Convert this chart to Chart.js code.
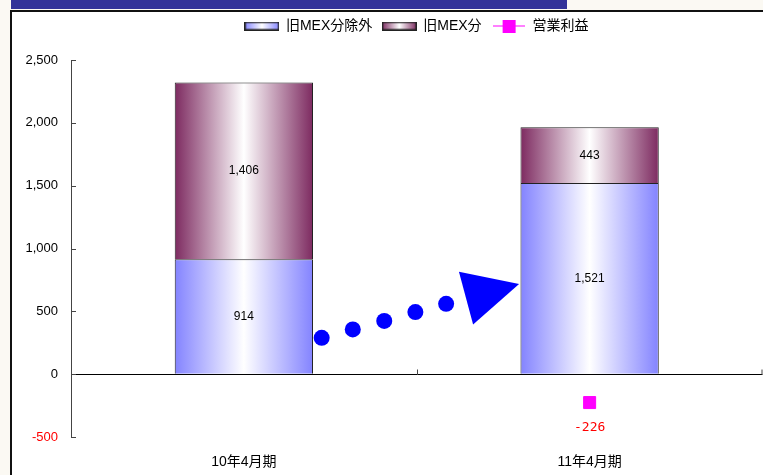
<!DOCTYPE html>
<html>
<head>
<meta charset="utf-8">
<script src="https://cdn.jsdelivr.net/npm/chart.js@4/dist/chart.umd.min.js"></script>
<style>
  html, body { margin: 0; padding: 0; }
  body { width: 763px; height: 475px; background: #fbf9f3; position: relative; overflow: hidden; }
  #banner { position: absolute; left: 11px; top: 0; width: 556px; height: 9px; background: #333399; }
  #panel { position: absolute; left: 10px; top: 10px; width: 763px; height: 465px; background: #fff;
           border-left: 2px solid #111; border-top: 2px solid #111; box-sizing: border-box; }
  #mychart { position: absolute; left: 0; top: 0; }
</style>
</head>
<body>
<div id="banner"></div>
<div id="panel"><canvas id="mychart" width="760" height="463"></canvas></div>
<script>
const categories = ["10年4月期", "11年4月期"];
const excludedValues = [914, 1521];   // 旧MEX分除外
const mexValues = [1406, 443];        // 旧MEX分
const profitValues = [null, -226];    // 営業利益
const yTicks = [-500, 0, 500, 1000, 1500, 2000, 2500];

const FONT = "'Liberation Sans', 'Noto Sans CJK JP', sans-serif";
const BLUE_EDGE = "#8383ff";
const MAROON_EDGE = "#7d2a60";

function formatNumber(value) {
  return value.toLocaleString("en-US");
}

// horizontal edge -> white -> edge shading across one bar
function barGradient(context, edgeColor) {
  let chart = context.chart;
  let xScale = chart.scales.x;
  if (!xScale || context.dataIndex === undefined) return edgeColor;
  let center = xScale.getPixelForValue(context.dataIndex);
  let step = xScale.getPixelForValue(1) - xScale.getPixelForValue(0);
  let half = step * 0.4 / 2;
  if (!isFinite(center) || !isFinite(half) || half <= 0) return edgeColor;
  let g = chart.ctx.createLinearGradient(center - half, 0, center + half, 0);
  g.addColorStop(0, edgeColor);
  g.addColorStop(0.5, "#ffffff");
  g.addColorStop(1, edgeColor);
  return g;
}

function legendSwatch(edgeColor) {
  let c = document.createElement("canvas");
  c.width = 35;
  c.height = 9;
  let ctx = c.getContext("2d");
  let g = ctx.createLinearGradient(0, 0, 35, 0);
  g.addColorStop(0, edgeColor);
  g.addColorStop(0.5, "#ffffff");
  g.addColorStop(1, edgeColor);
  ctx.fillStyle = g;
  ctx.fillRect(0, 0, 35, 9);
  ctx.strokeStyle = "#222";
  ctx.lineWidth = 1.5;
  ctx.strokeRect(0.75, 0.75, 33.5, 7.5);
  return c;
}

function legendLine() {
  let c = document.createElement("canvas");
  c.width = 32;
  c.height = 13;
  let ctx = c.getContext("2d");
  ctx.strokeStyle = "#ff00ff";
  ctx.lineWidth = 1;
  ctx.beginPath();
  ctx.moveTo(0, 6.5);
  ctx.lineTo(32, 6.5);
  ctx.stroke();
  ctx.fillStyle = "#ff00ff";
  ctx.fillRect(10, 0, 13, 13);
  return c;
}

// fixed legend band height so the plot starts where it should
const legendBand = {
  id: "legendBand",
  beforeLayout(chart) {
    let legend = chart.legend;
    if (!legend || legend._bandPatched) return;
    let fit = legend.fit;
    legend.fit = function() {
      fit.call(this);
      this.height = 51;
    };
    legend._bandPatched = true;
  }
};

// value labels, inside tick marks and the trend arrow
const decorations = {
  id: "decorations",
  afterDatasetsDraw(chart) {
    let ctx = chart.ctx;
    let xScale = chart.scales.x;
    let yScale = chart.scales.y;
    let area = chart.chartArea;

    ctx.save();
    ctx.strokeStyle = "#444";
    ctx.lineWidth = 1;
    ctx.beginPath();
    for (let v of yTicks) {
      let y = Math.round(yScale.getPixelForValue(v)) + 0.5;
      ctx.moveTo(area.left, y);
      ctx.lineTo(area.left + 5, y);
    }
    let y0 = Math.round(yScale.getPixelForValue(0)) + 0.5;
    let mid = Math.round((xScale.getPixelForValue(0) + xScale.getPixelForValue(1)) / 2) + 0.5;
    ctx.moveTo(mid, y0);
    ctx.lineTo(mid, y0 - 5);
    ctx.moveTo(area.right - 0.5, y0);
    ctx.lineTo(area.right - 0.5, y0 - 5);
    ctx.stroke();

    ctx.font = "12px " + FONT;
    ctx.fillStyle = "#000";
    ctx.textAlign = "center";
    ctx.textBaseline = "middle";
    [0, 1].forEach(function(datasetIndex) {
      let meta = chart.getDatasetMeta(datasetIndex);
      meta.data.forEach(function(bar, i) {
        let value = chart.data.datasets[datasetIndex].data[i];
        ctx.fillText(formatNumber(value), bar.x, (bar.y + bar.base) / 2);
      });
    });

    ctx.font = "13px 'DejaVu Sans Mono', monospace";
    ctx.fillStyle = "#ff0000";
    chart.getDatasetMeta(2).data.forEach(function(point, i) {
      let value = profitValues[i];
      if (value === null) return;
      ctx.fillText(formatNumber(value), point.x, point.y + 25);
    });

    // arrow: dots and head placed in category / value space
    let step = xScale.getPixelForValue(1) - xScale.getPixelForValue(0);
    let px = f => xScale.getPixelForValue(0) + f * step;
    let py = v => yScale.getPixelForValue(v);
    let dots = [[0.225, 289], [0.315, 356], [0.406, 424], [0.496, 494], [0.585, 560]];
    let head = [[0.622, 814], [0.796, 717], [0.663, 396]];
    ctx.fillStyle = "#0000ff";
    for (let d of dots) {
      ctx.beginPath();
      ctx.arc(px(d[0]), py(d[1]), 8, 0, Math.PI * 2);
      ctx.fill();
    }
    ctx.beginPath();
    ctx.moveTo(px(head[0][0]), py(head[0][1]));
    ctx.lineTo(px(head[1][0]), py(head[1][1]));
    ctx.lineTo(px(head[2][0]), py(head[2][1]));
    ctx.closePath();
    ctx.fill();
    ctx.restore();
  }
};

let ctx = document.getElementById("mychart").getContext("2d");
let myChart = new Chart(ctx, {
  data: {
    labels: categories,
    datasets: [
      {
        type: "bar",
        label: "旧MEX分除外",
        data: excludedValues,
        backgroundColor: c => barGradient(c, BLUE_EDGE),
        borderColor: "#222",
        borderWidth: 1,
        categoryPercentage: 0.4,
        barPercentage: 1,
        pointStyle: legendSwatch(BLUE_EDGE)
      },
      {
        type: "bar",
        label: "旧MEX分",
        data: mexValues,
        backgroundColor: c => barGradient(c, MAROON_EDGE),
        borderColor: "#222",
        borderWidth: 1,
        categoryPercentage: 0.4,
        barPercentage: 1,
        pointStyle: legendSwatch(MAROON_EDGE)
      },
      {
        type: "line",
        label: "営業利益",
        data: profitValues,
        borderColor: "#ff00ff",
        backgroundColor: "#ff00ff",
        borderWidth: 1,
        pointStyle: "rect",
        pointRadius: 8.5,
        pointHoverRadius: 8.5
      }
    ]
  },
  options: {
    responsive: false,
    animation: false,
    layout: { padding: { top: -3, right: 0, bottom: 0, left: 0 } },
    plugins: {
      legend: {
        position: "top",
        fullSize: false,
        labels: {
          font: { family: FONT, size: 14 },
          color: "#000",
          usePointStyle: true,
          pointStyleWidth: 34,
          padding: 10,
          generateLabels(chart) {
            let items = Chart.defaults.plugins.legend.labels.generateLabels(chart);
            items[2].pointStyle = legendLine();
            return items;
          }
        }
      },
      tooltip: { enabled: false }
    },
    scales: {
      x: {
        stacked: true,
        grid: { display: false },
        border: { display: false },
        ticks: { font: { family: FONT, size: 14 }, color: "#000", padding: 9 },
        afterFit(scale) {
          scale.height = 38;
          scale.paddingLeft = 0;
          scale.paddingRight = 0;
        }
      },
      y: {
        stacked: true,
        min: -500,
        max: 2500,
        afterBuildTicks(scale) { scale.ticks = yTicks.map(v => ({ value: v })); },
        grid: {
          drawTicks: false,
          color: c => (c.tick && c.tick.value === 0) ? "#000" : "rgba(0,0,0,0)",
          lineWidth: 1
        },
        border: { display: true, color: "#444", width: 1 },
        ticks: {
          font: { family: FONT, size: 13 },
          color: c => (c.tick && c.tick.value < 0) ? "#ff0000" : "#000",
          padding: 13,
          callback: v => formatNumber(v)
        },
        afterFit(scale) { scale.width = 59; }
      }
    }
  },
  plugins: [legendBand, decorations]
});
</script>
</body>
</html>
